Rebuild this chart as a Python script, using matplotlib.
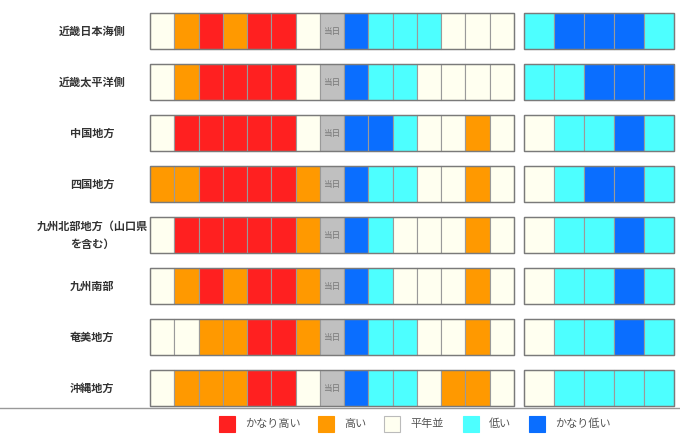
import matplotlib

matplotlib.use("Agg")
import matplotlib.pyplot as plt
from matplotlib.patches import Rectangle

plt.rcParams["font.family"] = ["Noto Sans CJK JP", "DejaVu Sans"]

# ---------------- Data ----------------
# codes: 2 = かなり高い, 1 = 高い, 0 = 平年並, -1 = 低い, -2 = かなり低い

regions = [
    "近畿日本海側",
    "近畿太平洋側",
    "中国地方",
    "四国地方",
    "九州北部地方（山口県\nを含む）",
    "九州南部",
    "奄美地方",
    "沖縄地方",
]

past = [
    [0, 1, 2, 1, 2, 2, 0],
    [0, 1, 2, 2, 2, 2, 0],
    [0, 2, 2, 2, 2, 2, 0],
    [1, 1, 2, 2, 2, 2, 1],
    [0, 2, 2, 2, 2, 2, 1],
    [0, 1, 2, 1, 2, 2, 1],
    [0, 0, 1, 1, 2, 2, 1],
    [0, 1, 1, 1, 2, 2, 0],
]

forecast = [
    [-2, -1, -1, -1, 0, 0, 0],
    [-2, -1, -1, 0, 0, 0, 0],
    [-2, -2, -1, 0, 0, 1, 0],
    [-2, -1, -1, 0, 0, 1, 0],
    [-2, -1, 0, 0, 0, 1, 0],
    [-2, -1, 0, 0, 0, 1, 0],
    [-2, -1, -1, 0, 0, 1, 0],
    [-2, -1, -1, 0, 1, 1, 0],
]

weekly = [
    [-1, -2, -2, -2, -1],
    [-1, -1, -2, -2, -2],
    [0, -1, -1, -2, -1],
    [0, -1, -2, -2, -1],
    [0, -1, -1, -2, -1],
    [0, -1, -1, -2, -1],
    [0, -1, -1, -2, -1],
    [0, -1, -1, -1, -1],
]

level_codes = [2, 1, 0, -1, -2]
level_labels = ["かなり高い", "高い", "平年並", "低い", "かなり低い"]
level_colors = ["#ff2020", "#ff9900", "#fffff0", "#4dffff", "#0a6eff"]
color_of = dict(zip(level_codes, level_colors))

today_label = "当日"

# ---------------- Layout (pixels) ----------------
W, H = 680, 442
LEFT_X0, LEFT_X1 = 150.0, 514.0
RIGHT_X0, RIGHT_X1 = 524.3, 673.7
ROW_Y0, ROW_STEP, ROW_H = 13.3, 51.0, 35.7
CELL_EDGE = "#9a9a9a"
BOX_EDGE = "#7a7a7a"

fig = plt.figure(figsize=(W / 100, H / 100), dpi=100)
ax = fig.add_axes([0, 0, 1, 1])
ax.set_xlim(0, W)
ax.set_ylim(H, 0)
ax.axis("off")


def draw_group(x0, x1, y, codes):
    w = (x1 - x0) / len(codes)
    for j, c in enumerate(codes):
        if c is None:
            face = "#c0c0c0"
        else:
            face = color_of[c]
        ax.add_patch(Rectangle((x0 + j * w, y), w, ROW_H, facecolor=face,
                               edgecolor=CELL_EDGE, lw=0.8))
        if c is None:
            ax.text(x0 + (j + 0.5) * w, y + ROW_H / 2, today_label, ha="center",
                    va="center", fontsize=6.2, color="#777777")
    ax.add_patch(Rectangle((x0, y), x1 - x0, ROW_H, facecolor="none",
                           edgecolor=BOX_EDGE, lw=1.0))


for i, name in enumerate(regions):
    y = ROW_Y0 + i * ROW_STEP
    ax.text(92, y + ROW_H / 2, name, ha="center", va="center", fontsize=8,
            fontweight="bold", color="#333333", linespacing=1.45)
    draw_group(LEFT_X0, LEFT_X1, y, past[i] + [None] + forecast[i])
    draw_group(RIGHT_X0, RIGHT_X1, y, weekly[i])

ax.plot([0, W], [407.5, 407.5], color="#999999", lw=1.0)

# legend
leg_x = [219, 318, 384, 463, 529]
for x, lab, col in zip(leg_x, level_labels, level_colors):
    ax.add_patch(Rectangle((x, 416), 16, 16, facecolor=col,
                           edgecolor="#bbbbbb" if col == "#fffff0" else col, lw=0.8))
    ax.text(x + 26, 424, lab, ha="left", va="center", fontsize=8, color="#555555")

fig.savefig("out.png", dpi=100)
